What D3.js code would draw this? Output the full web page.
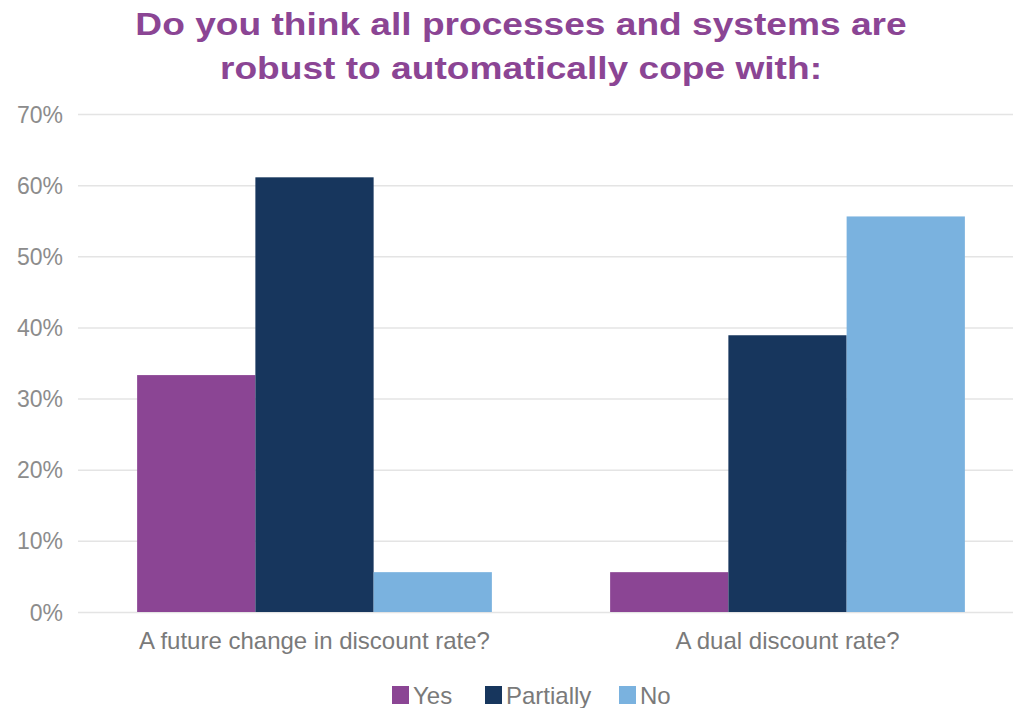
<!DOCTYPE html>
<html>
<head>
<meta charset="utf-8">
<script src="https://cdn.jsdelivr.net/npm/d3@7"></script>
<style>
  html, body { margin: 0; padding: 0; background: #fff; }
  svg { display: block; }
  text { font-family: "Liberation Sans", Arial, sans-serif; }
</style>
</head>
<body>
<svg id="chart" width="1013" height="708"></svg>
<script>
const categories = ["A future change in discount rate?", "A dual discount rate?"];
const seriesNames = ["Yes", "Partially", "No"];
const yesValues = [0.333, 0.056];
const partiallyValues = [0.611, 0.389];
const noValues = [0.056, 0.556];
const yTicks = [0, 0.1, 0.2, 0.3, 0.4, 0.5, 0.6, 0.7];
const titleLines = ["Do you think all processes and systems are", "robust to automatically cope with:"];
const colors = ["#8b4594", "#17365d", "#7ab2df"];

const seriesValues = [yesValues, partiallyValues, noValues];
const svg = d3.select("#chart");

const y = d3.scaleLinear().domain([0, 0.7]).range([612, 114]);
const x0 = d3.scaleBand().domain(categories).range([78, 1024]).paddingInner(0.25).paddingOuter(0.125);
const x1 = d3.scaleBand().domain(seriesNames).range([0, x0.bandwidth()]);
const color = d3.scaleOrdinal().domain(seriesNames).range(colors);

function stretchedText(parent, x, yy, str, anchor, size, fill, weight, sx) {
  const g = parent.append("g").attr("transform", `translate(${x},${yy}) scale(${sx},1)`);
  return g.append("text").attr("text-anchor", anchor).attr("font-size", size)
    .attr("fill", fill).attr("font-weight", weight || "normal").text(str);
}

// Title
titleLines.forEach((line, i) => {
  stretchedText(svg, 521, 35 + i * 44, line, "middle", 32, "#8b4594", "bold", 1.16);
});

// Gridlines
const yAxis = d3.axisLeft(y).tickValues(yTicks).tickSize(-(1024 - 78)).tickFormat("");
const ga = svg.append("g").attr("transform", "translate(78,0)").call(yAxis);
ga.select(".domain").remove();
ga.selectAll(".tick line").attr("stroke", "#e4e4e4").attr("stroke-width", 1.5);

// Tick labels
yTicks.forEach(t => {
  stretchedText(svg, 63, y(t) + 8.5, d3.format(".0%")(t), "end", 23, "#8c8c8c", "normal", 1.0);
});

// Bars
const groups = svg.append("g").selectAll("g").data(categories).join("g")
  .attr("transform", d => `translate(${x0(d)},0)`);
groups.selectAll("rect")
  .data((d, ci) => seriesNames.map((s, si) => ({ s, v: seriesValues[si][ci] })))
  .join("rect")
  .attr("x", d => x1(d.s))
  .attr("width", x1.bandwidth())
  .attr("y", d => y(d.v))
  .attr("height", d => y(0) - y(d.v))
  .attr("fill", d => color(d.s));

// Category labels
categories.forEach(c => {
  stretchedText(svg, x0(c) + x0.bandwidth() / 2, 649, c, "middle", 24, "#7a7a7a", "normal", 1.0);
});

// Legend
const legendItems = [
  { s: "Yes", x: 392 },
  { s: "Partially", x: 485 },
  { s: "No", x: 619 }
];
legendItems.forEach(li => {
  svg.append("rect").attr("x", li.x).attr("y", 686).attr("width", 17).attr("height", 18)
    .attr("fill", color(li.s));
  stretchedText(svg, li.x + 21, 704, li.s, "start", 24, "#7a7a7a", "normal", 1.0);
});
</script>
</body>
</html>
